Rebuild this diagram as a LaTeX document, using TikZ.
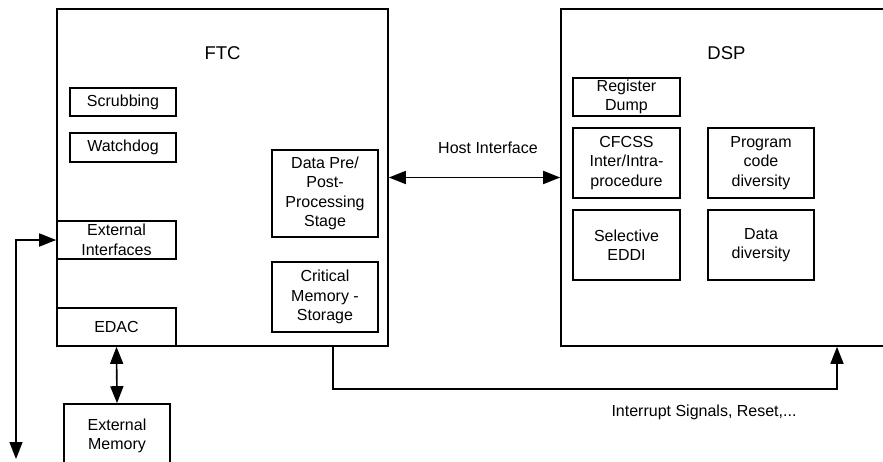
\documentclass[tikz,border=0pt]{standalone}
\usepackage{fontspec}
\setmainfont{Liberation Sans}
\usetikzlibrary{arrows.meta}
\begin{document}
\begin{tikzpicture}[x=1pt,y=-1pt,
  every node/.style={font=\fontsize{16}{19.5}\selectfont},
  blk/.style={draw, line width=1.6pt, inner sep=0pt, align=center},
  unit/.style={draw, line width=1.6pt, inner sep=0pt},
  title/.style={font=\fontsize{18.5}{22}\selectfont},
  tip/.style={Triangle[length=17pt,width=13pt]},
  conn/.style={line width=1.6pt, {Triangle[length=17pt,width=13pt]}-{Triangle[length=17pt,width=13pt]}},
  sig/.style={line width=1.6pt, -{Triangle[length=17pt,width=13pt]}}
]
\useasboundingbox (0,0) rectangle (883,461);
\clip (0,0) rectangle (883,461);

% FTC controller and its function blocks
\node[unit, minimum width=331pt, minimum height=337pt] (ftc) at (222.5,177.5) {};
\node[title] (ftclbl) at ([yshift=-45pt]ftc.north) {FTC};
\node[blk, minimum width=106pt, minimum height=28pt] (scrub) at (123,102) {Scrubbing};
\node[blk, minimum width=106pt, minimum height=29pt] (watch) at (123,147.5) {Watchdog};
\node[blk, minimum width=119pt, minimum height=38pt] (extif) at (116.5,240) {External\\Interfaces};
\node[blk, minimum width=119pt, minimum height=38pt] (edac) at (116.5,327) {EDAC};
\node[blk, minimum width=106pt, minimum height=87pt] (prepost) at (325,193.5) {Data Pre/\\Post-\\Processing\\Stage};
\node[blk, minimum width=106pt, minimum height=70pt] (crit) at (325,297) {Critical\\Memory -\\Storage};

% external memory below the controller
\node[blk, minimum width=106pt, minimum height=64pt] (extmem) at (117,436) {External\\Memory};

% DSP and its hardening techniques
\node[unit, minimum width=331pt, minimum height=337pt] (dsp) at (726.5,177.5) {};
\node[title] (dsplbl) at ([yshift=-45pt]dsp.north) {DSP};
\node[blk, minimum width=107pt, minimum height=38pt] (regdump) at (626.5,97) {Register\\Dump};
\node[blk, minimum width=107pt, minimum height=70pt] (cfcss) at (626.5,163) {CFCSS\\Inter/Intra-\\procedure};
\node[blk, minimum width=106pt, minimum height=70pt] (progdiv) at (761,163) {Program\\code\\diversity};
\node[blk, minimum width=107pt, minimum height=70pt] (eddi) at (626.5,245) {Selective\\EDDI};
\node[blk, minimum width=106pt, minimum height=70pt] (datadiv) at (761,245) {Data\\diversity};

% connections
\draw[conn] (ftc.east) -- (dsp.west);
\node (hostlbl) at (488,148) {Host Interface};

\draw[conn] (edac.south) -- (extmem.north);

\coordinate (extend) at (16,459);
\draw[conn] (extend) |- (extif.west);

\draw[sig] ([xshift=110.5pt]ftc.south) -- ++(0,42) -| ([xshift=110.5pt]dsp.south);
\node (irqlbl) at (704,412) {Interrupt Signals, Reset,...};
\end{tikzpicture}
\end{document}
